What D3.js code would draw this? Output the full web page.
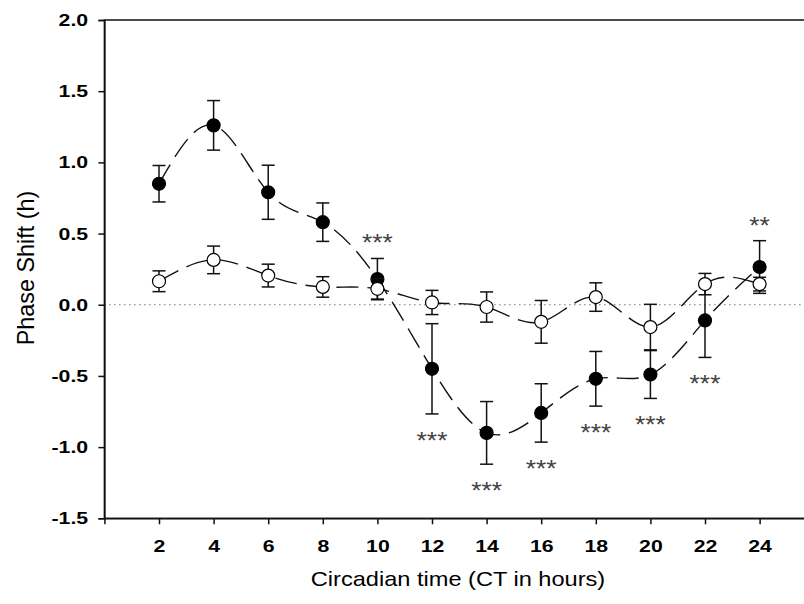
<!DOCTYPE html>
<html>
<head>
<meta charset="utf-8">
<script src="https://cdn.jsdelivr.net/npm/d3@7/dist/d3.min.js"></script>
<style>
  body { margin: 0; background: #fff; }
  svg { display: block; font-family: "Liberation Sans", Arial, sans-serif; }
</style>
</head>
<body>
<div id="chart"></div>
<script>
// circadian times (hours)
var ct = [2, 4, 6, 8, 10, 12, 14, 16, 18, 20, 22, 24];
// filled circles
var filledMean = [0.85, 1.26, 0.79, 0.58, 0.18, -0.45, -0.90, -0.76, -0.52, -0.49, -0.11, 0.265];
var filledErr  = [0.128, 0.174, 0.19, 0.135, 0.145, 0.317, 0.22, 0.205, 0.192, 0.168, 0.26, 0.185];
// open circles
var openMean = [0.165, 0.315, 0.205, 0.125, 0.112, 0.016, -0.016, -0.12, 0.054, -0.157, 0.145, 0.145];
var openErr  = [0.073, 0.097, 0.08, 0.072, 0.072, 0.085, 0.106, 0.15, 0.10, 0.16, 0.075, 0.048];
// significance marks for the filled series
var stars    = ["", "", "", "", "***", "***", "***", "***", "***", "***", "***", "**"];
var starSide = ["", "", "", "", "above", "below", "below", "below", "below", "below", "below", "above"];
// axis ticks
var xTicks = [2, 4, 6, 8, 10, 12, 14, 16, 18, 20, 22, 24];
var yTicks = [-1.5, -1.0, -0.5, 0.0, 0.5, 1.0, 1.5, 2.0];

var W = 804, H = 604;
var svg = d3.select("#chart").append("svg")
    .attr("width", W)
    .attr("height", H);

var x = d3.scaleLinear().domain([0, 26]).range([104.4, 814.2]);
var y = d3.scaleLinear().domain([-1.5, 2.0]).range([518.3, 20]);

// frame (top and right border)
svg.append("rect")
    .attr("x", x(0)).attr("y", y(2.0))
    .attr("width", x(26) - x(0)).attr("height", y(-1.5) - y(2.0))
    .attr("fill", "none")
    .attr("stroke", "#111")
    .attr("stroke-width", 1.5);

// zero reference line
svg.append("line")
    .attr("x1", x(0)).attr("x2", x(26))
    .attr("y1", y(0)).attr("y2", y(0))
    .attr("stroke", "#333")
    .attr("stroke-width", 1)
    .attr("stroke-dasharray", "1,4");

// plain hyphen for negatives, like the original
var yFmt = function (d) { return d3.format(".1f")(d).replace("\u2212", "-"); };

// axes
var xAxis = svg.append("g")
    .attr("transform", "translate(0," + y(-1.5) + ")")
    .call(d3.axisBottom(x).tickValues(xTicks).tickSize(6).tickPadding(16).tickFormat(d3.format("d")));
var yAxis = svg.append("g")
    .attr("transform", "translate(" + x(0) + ",0)")
    .call(d3.axisLeft(y).tickValues(yTicks).tickSize(6).tickPadding(7).tickFormat(yFmt));

[xAxis, yAxis].forEach(function (a) {
    a.select(".domain").attr("stroke", "#111").attr("stroke-width", 1.5);
    a.selectAll(".tick line").attr("stroke", "#111").attr("stroke-width", 1.5);
    a.selectAll(".tick text")
        .attr("fill", "#000")
        .attr("transform", "scale(1.25,1)")
        .style("font-family", "'Liberation Sans', Arial, sans-serif")
        .style("font-size", "17px")
        .style("font-weight", "bold");
});

// axis titles
svg.append("text")
    .attr("transform", "translate(458,586) scale(1.18,1)")
    .attr("text-anchor", "middle")
    .style("font-size", "20px")
    .text("Circadian time (CT in hours)");

svg.append("text")
    .attr("transform", "translate(34,268) rotate(-90)")
    .attr("text-anchor", "middle")
    .style("font-size", "23.4px")
    .text("Phase Shift (h)");

// series drawing
var line = d3.line()
    .curve(d3.curveNatural)
    .x(function (d) { return x(d[0]); })
    .y(function (d) { return y(d[1]); });

function series(means, errs, fill) {
    var pts = ct.map(function (c, i) { return [c, means[i], errs[i]]; });
    svg.append("path")
        .datum(pts)
        .attr("d", line)
        .attr("fill", "none")
        .attr("stroke", "#111")
        .attr("stroke-width", 1.4)
        .attr("stroke-dasharray", "22,9");
    return { pts: pts, fill: fill };
}

function marks(s) {
    var g = svg.append("g");
    var bars = g.selectAll("g.err").data(s.pts).enter().append("g");
    bars.append("line")
        .attr("x1", function (d) { return x(d[0]); })
        .attr("x2", function (d) { return x(d[0]); })
        .attr("y1", function (d) { return y(d[1] - d[2]); })
        .attr("y2", function (d) { return y(d[1] + d[2]); });
    [-1, 1].forEach(function (sgn) {
        bars.append("line")
            .attr("x1", function (d) { return x(d[0]) - 6.5; })
            .attr("x2", function (d) { return x(d[0]) + 6.5; })
            .attr("y1", function (d) { return y(d[1] + sgn * d[2]); })
            .attr("y2", function (d) { return y(d[1] + sgn * d[2]); });
    });
    bars.selectAll("line").attr("stroke", "#111").attr("stroke-width", 1.5);
    g.selectAll("circle").data(s.pts).enter().append("circle")
        .attr("cx", function (d) { return x(d[0]); })
        .attr("cy", function (d) { return y(d[1]); })
        .attr("r", 6.5)
        .attr("fill", s.fill)
        .attr("stroke", "#000")
        .attr("stroke-width", 1.2);
}

var filled = series(filledMean, filledErr, "#000");
var open = series(openMean, openErr, "#fff");
marks(filled);
marks(open);

// significance stars (21px beyond the error cap, glyph centre)
svg.append("g").selectAll("text")
    .data(ct.map(function (c, i) { return { c: c, i: i }; }).filter(function (d) { return stars[d.i] !== ""; }))
    .enter().append("text")
    .attr("transform", function (d) {
        var i = d.i;
        var centre = starSide[i] === "above"
            ? y(filledMean[i] + filledErr[i]) - 21
            : y(filledMean[i] - filledErr[i]) + 21;
        return "translate(" + x(d.c) + "," + (centre + 14) + ") scale(1.1,1)";
    })
    .attr("text-anchor", "middle")
    .attr("fill", "#444")
    .style("font-size", "24px")
    .text(function (d) { return stars[d.i]; });
</script>
</body>
</html>
